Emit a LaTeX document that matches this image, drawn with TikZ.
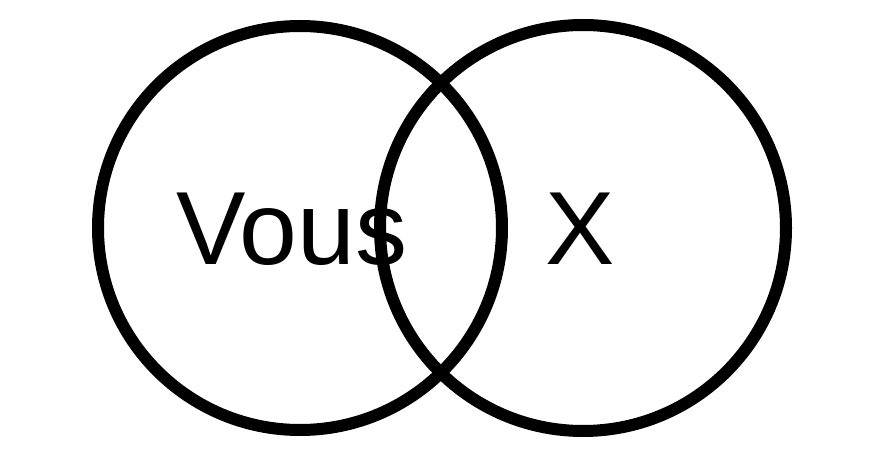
\documentclass[tikz,border=0pt]{standalone}
\usepackage{fontspec}
\setmainfont{Liberation Sans}
\begin{document}
\begin{tikzpicture}[x=1pt,y=-1pt,
  ring/.style={draw=black,line width=12pt},
  lbl/.style={inner sep=0pt,anchor=base,font=\fontsize{104}{120}\selectfont}]
\useasboundingbox (0,0) rectangle (889,449);
\node[ring,circle,minimum size=404pt,inner sep=0pt] (left) at (300,228) {};
\node[ring,circle,minimum size=406pt,inner sep=0pt] (right) at (583,228) {};
\node[lbl] (vous) at (292,265) {Vous};
\node[lbl] (x) at (580,265) {X};
\end{tikzpicture}
\end{document}
